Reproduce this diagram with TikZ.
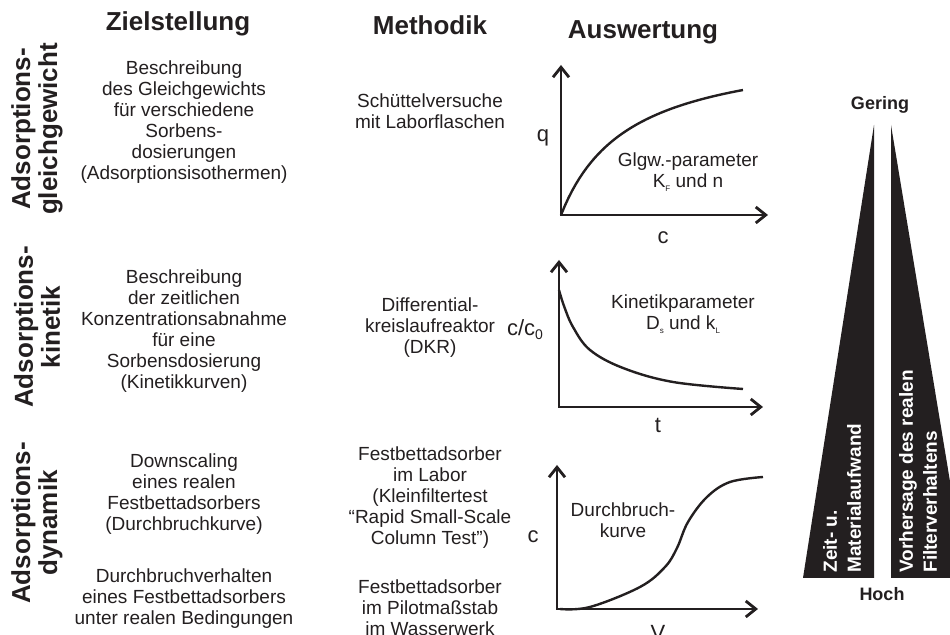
\documentclass[tikz,border=0pt]{standalone}
\usepackage{fontspec}
\setmainfont{Liberation Sans}
\usetikzlibrary{arrows.meta}
\definecolor{ink}{RGB}{35,31,32}
\newcommand{\lowidx}[1]{\raisebox{-0.35ex}{\fontsize{4}{4}\selectfont #1}}

\begin{document}
\begin{tikzpicture}[x=0.5pt,y=-0.5pt,
  txt/.style={align=center,inner sep=0pt,text=ink,font=\fontsize{9.5}{10.5}\selectfont},
  head/.style={inner sep=0pt,text=ink,font=\fontsize{13}{15}\selectfont\bfseries},
  rowlab/.style={rotate=90,align=center,inner sep=0pt,text=ink,font=\fontsize{13}{13.5}\selectfont\bfseries},
  axlab/.style={inner sep=0pt,text=ink,font=\fontsize{11}{12}\selectfont},
  axis/.style={draw=ink,line width=1.4pt,{Straight Barb[length=5pt,width=8pt]}-{Straight Barb[length=5pt,width=8pt]}},
  curve/.style={draw=ink,line width=1.2pt},
  wedge/.style={fill=ink,draw=none},
  wedgetxt/.style={rotate=90,anchor=west,align=left,inner sep=0pt,text=white,font=\fontsize{9.5}{12}\selectfont\bfseries},
  endlab/.style={inner sep=0pt,text=ink,font=\fontsize{9}{10}\selectfont\bfseries}]
\useasboundingbox (0,0) rectangle (950,635);

% Kopfzeile
\node[head] (hZiel) at (178,24) {Zielstellung};
\node[head] (hMeth) at (430,25) {Methodik};
\node[head] (hAusw) at (643,32) {Auswertung};

% Zeilen
\node[rowlab] (rGlgw) at (37,129) {Adsorptions-\\gleichgewicht};
\node[rowlab] (rKin) at (37,327) {Adsorptions-\\kinetik};
\node[rowlab] (rDyn) at (37,523) {Adsorptions-\\dynamik};

% Zielstellung
\node[txt] (zGlgw) at (184,122) {Beschreibung\\des Gleichgewichts\\f\"ur verschiedene\\Sorbens-\\dosierungen\\(Adsorptionsisothermen)};
\node[txt] (zKin) at (184,331) {Beschreibung\\der zeitlichen\\Konzentrationsabnahme\\f\"ur eine\\Sorbensdosierung\\(Kinetikkurven)};
\node[txt] (zLabor) at (184,494) {Downscaling\\eines realen\\Festbettadsorbers\\(Durchbruchkurve)};
\node[txt] (zPilot) at (184,599) {Durchbruchverhalten\\eines Festbettadsorbers\\unter realen Bedingungen};

% Methodik
\node[txt] (mGlgw) at (430,111) {Sch\"uttelversuche\\mit Laborflaschen};
\node[txt] (mKin) at (430,328) {Differential-\\kreislaufreaktor\\(DKR)};
\node[txt] (mLabor) at (430,498) {Festbettadsorber\\im Labor\\(Kleinfiltertest\\\char"201C Rapid Small-Scale\\Column Test\char"201D)};
\node[txt] (mPilot) at (430,608) {Festbettadsorber\\im Pilotma\ss stab\\im Wasserwerk};

% Auswertung: Isotherme
\coordinate (g1top) at (561,65);
\coordinate (g1org) at (561,215);
\coordinate (g1end) at (768,215);
\draw[axis] (g1top) -- (g1org) -- (g1end);
\draw[curve] plot[domain=0:182,samples=50] ({561+\x},{215-171.4*(\x/(67.6+\x))});
\node[axlab] (g1y) at (543,138) {q};
\node[axlab] (g1x) at (663,238) {c};
\node[txt] (g1par) at (688,172) {Glgw.-parameter\\K\lowidx{F} und n};

% Auswertung: Kinetik
\coordinate (g2top) at (559,260);
\coordinate (g2org) at (559,407);
\coordinate (g2end) at (763,407);
\draw[axis] (g2top) -- (g2org) -- (g2end);
\draw[curve] plot[smooth,tension=0.6] coordinates {(559,290) (564,306) (573,327) (590,350) (623,368) (673,382) (743,389)};
\node[axlab] (g2y) at (525,330) {c/c\lowidx{\fontsize{7}{7}\selectfont 0}};
\node[axlab] (g2x) at (658,425) {t};
\node[txt] (g2par) at (683,314) {Kinetikparameter\\D\lowidx{s} und k\lowidx{L}};

% Auswertung: Durchbruch
\coordinate (g3top) at (557,465);
\coordinate (g3org) at (557,609);
\coordinate (g3end) at (758,609);
\draw[axis] (g3top) -- (g3org) -- (g3end);
\draw[curve] plot[smooth,tension=0.6] coordinates {(560,609) (590,607) (640,587) (665,567) (677,548) (688,522) (707,497) (730,482) (763,477)};
\node[axlab] (g3y) at (533,537) {c};
\node[axlab] (g3x) at (658,633) {V};
\node[txt] (g3par) at (623,520) {Durchbruch-\\kurve};

% Keile
\fill[wedge] (874,125) -- (874,578) -- (803,578) -- cycle;
\fill[wedge] (891,125) -- (891,578) -- (966,578) -- cycle;
\node[wedgetxt] (kAufw) at (842,573) {Zeit- u.\\Materialaufwand};
\node[wedgetxt] (kVorh) at (918,573) {Vorhersage des realen\\Filterverhaltens};
\node[endlab] (kGer) at (880,105) {Gering};
\node[endlab] (kHoch) at (882,594) {Hoch};
\end{tikzpicture}
\end{document}
